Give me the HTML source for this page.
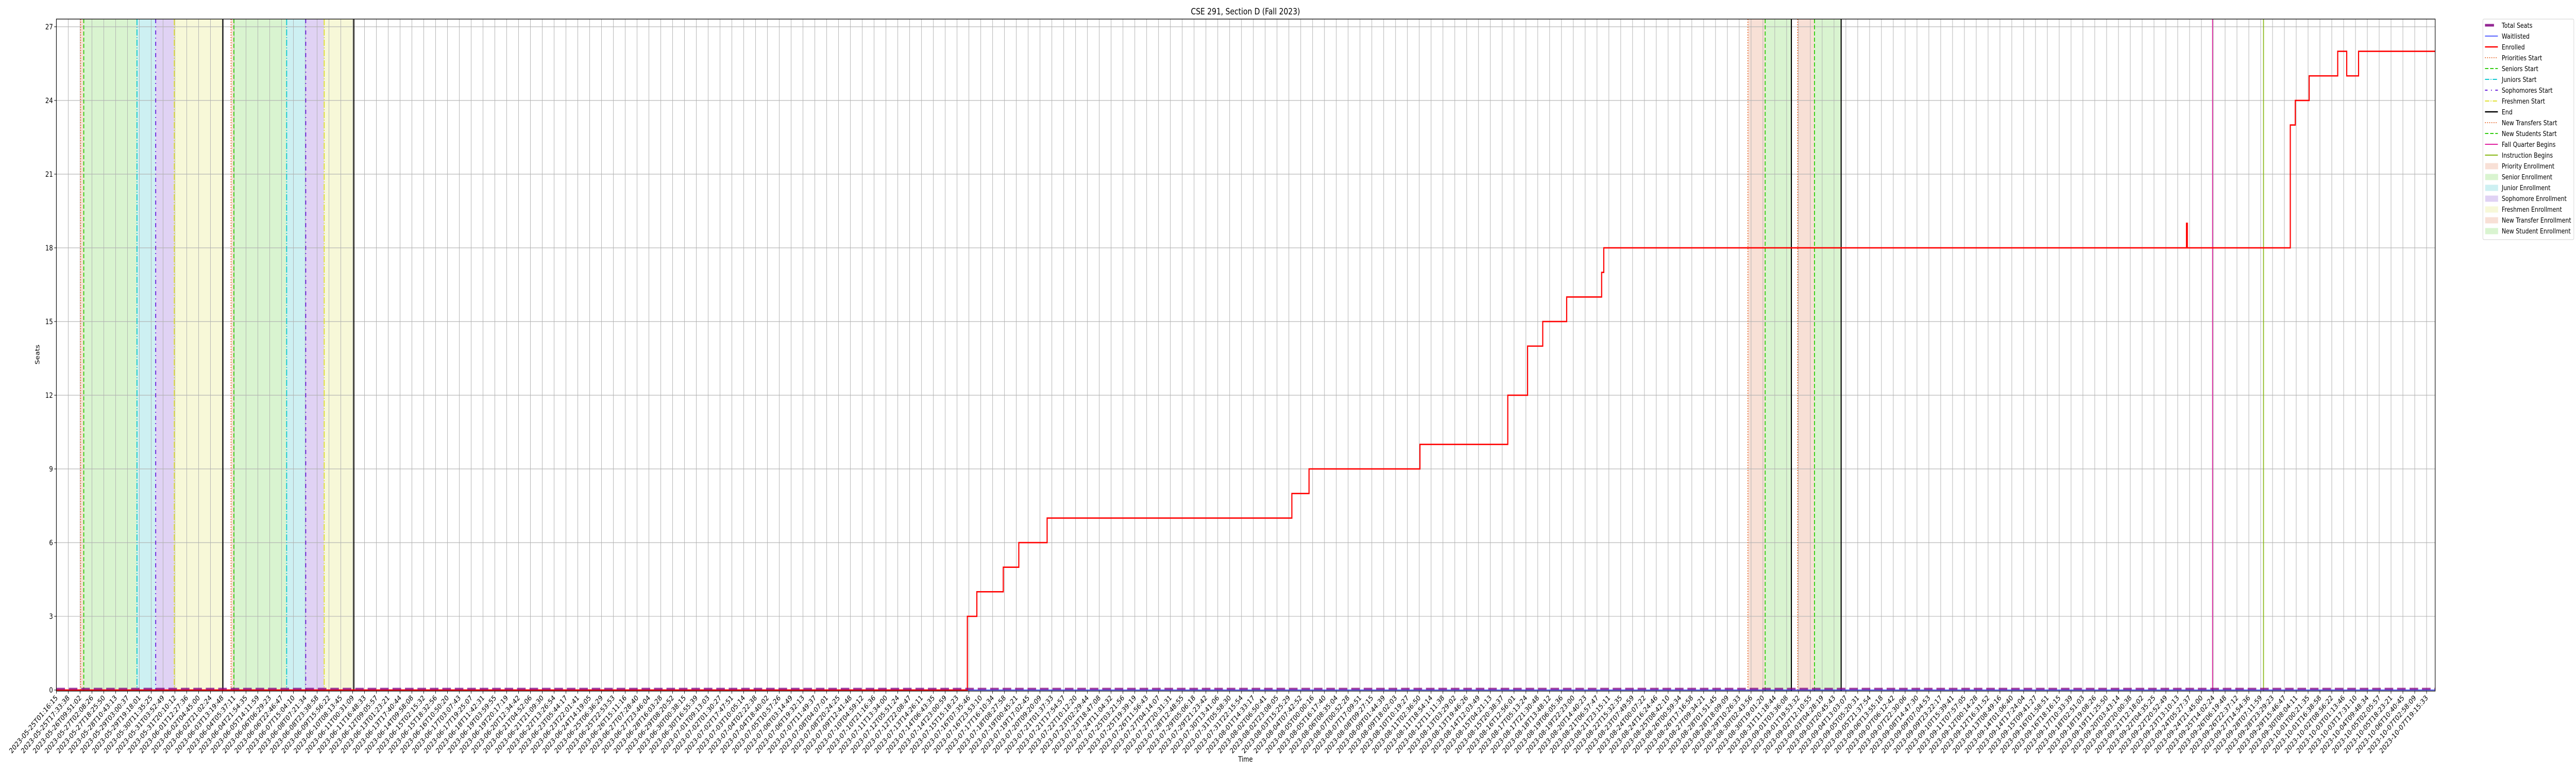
<!DOCTYPE html>
<html><head><meta charset="utf-8"><title>CSE 291, Section D (Fall 2023)</title>
<style>
html,body{margin:0;padding:0;background:#fff;width:100%;height:100%;overflow:hidden;}
svg{display:block;font-family:"DejaVu Sans","Liberation Sans",sans-serif;overflow:hidden;width:100vw;height:100vh;}
</style></head>
<body>
<svg id="chart" viewBox="0 0 6000 1500" preserveAspectRatio="none" xmlns="http://www.w3.org/2000/svg">
<rect x="0" y="0" width="6000" height="1500" fill="#fff"/>
<text x="2901" y="28" font-size="16.7" text-anchor="middle" fill="#000">CSE 291, Section D (Fall 2023)</text>
<g id="spans"></g>
<g id="grid"></g>
<g id="vlines"></g>
<g id="series"></g>
<g id="axes"></g>
<text x="2901" y="1478" font-size="13.9" text-anchor="middle">Time</text>
<text transform="translate(92,688) rotate(-90)" font-size="13.9" text-anchor="middle">Seats</text>
<g id="legend"></g>
</svg>
<script>
// ---- data ----
const tickStart = "2023-05-25T01:16:15";
const tickEnd = "2023-10-07T19:15:33";
const tickCount = 201;
const yTicks = [0, 3, 6, 9, 12, 15, 18, 21, 24, 27];
// x in tick-index units
const enrolledX = [0, 76.87, 77.67, 79.90, 81.21, 83.60, 104.25, 105.70, 115.06, 122.47, 124.14, 125.42, 127.44, 130.39, 130.57, 179.74, 179.81, 188.50, 188.92, 190.09, 192.50, 193.26, 194.26, 200.72];
const enrolledY = [0, 3, 4, 5, 6, 7, 8, 9, 10, 12, 14, 15, 16, 17, 18, 19, 18, 23, 24, 25, 26, 25, 26, 26];
const totalSeatsX = [0, 200.72];
const totalSeatsY = [0, 0];
const waitlistX = [0, 200.72];
const waitlistY = [0, 0];
const spanKinds = ["priority","senior","junior","sophomore","freshman","priority","senior","junior","sophomore","freshman","priority","senior","priority","senior"];
const spanStart = [2.04, 2.31, 6.80, 8.38, 9.95, 14.74, 14.98, 19.43, 21.04, 22.60, 142.73, 144.19, 146.93, 148.35];
const spanEnd   = [2.31, 6.80, 8.38, 9.95, 14.05, 14.98, 19.43, 21.04, 22.60, 25.10, 144.19, 146.40, 148.35, 150.60];
const lineKinds = ["priorities","seniors","juniors","sophomores","freshmen","end","priorities","seniors","juniors","sophomores","freshmen","end","transfers","newstudents","end","transfers","newstudents","end","fall","instruction"];
const lineX = [2.04, 2.31, 6.80, 8.38, 9.95, 14.05, 14.74, 14.98, 19.43, 21.04, 22.60, 25.10, 142.73, 144.19, 146.40, 146.93, 148.35, 150.60, 181.94, 186.24];

// ---- layout ----
const L = 131.3, R = 5672, T = 37, B = 1341;
const tickStep = (5652 - 131.3) / 200;
const xScale = v => L + v * tickStep;
const y0 = 1339, yUnit = 47.67;
const yScale = v => y0 - v * yUnit;
const NS = "http://www.w3.org/2000/svg";
function mk(tag, attrs, parent) {
  const e = document.createElementNS(NS, tag);
  for (const k in attrs) e.setAttribute(k, attrs[k]);
  parent.appendChild(e);
  return e;
}
const spanFill = {priority:"#f8e0d6", senior:"#d9f4d0", junior:"#cdf0f2", sophomore:"#e0d2f4", freshman:"#f7f8d8"};
const lineStyle = {
  priorities:{c:"#e8743b",w:2.2,d:"2,3"},
  transfers:{c:"#e8743b",w:2.2,d:"2,3"},
  seniors:{c:"#33cc11",w:2.2,d:"8,4"},
  newstudents:{c:"#33cc11",w:2.2,d:"8,4"},
  juniors:{c:"#11c8d0",w:2.2,d:"12,3,2,3"},
  sophomores:{c:"#6a22dd",w:2.2,d:"8,6,2,6"},
  freshmen:{c:"#e0e030",w:2.2,d:"12,3,2,3"},
  end:{c:"#000",w:2.5,d:""},
  fall:{c:"#e020a0",w:2,d:""},
  instruction:{c:"#88b814",w:2,d:""}
};

// spans
const gS = document.getElementById("spans");
for (let i = 0; i < spanStart.length; i++) {
  const r = mk("rect", {x: xScale(spanStart[i]), y: T, width: xScale(spanEnd[i]) - xScale(spanStart[i]), height: B - T, fill: spanFill[spanKinds[i]]}, gS);
  
  
}
// grid
const gG = document.getElementById("grid");
for (let i = 0; i < tickCount; i++) {
  const x = xScale(i);
  const l = mk("line", {x1: x, x2: x, y1: T, y2: B, stroke: "#b0b0b0", "stroke-width": 1.1}, gG);
  
  
}
yTicks.forEach(v => {
  const l = mk("line", {x1: L, x2: R, y1: yScale(v), y2: yScale(v), stroke: "#b0b0b0", "stroke-width": 1.1}, gG);
  
  
});
// event lines
const gV = document.getElementById("vlines");
for (let i = 0; i < lineX.length; i++) {
  const s = lineStyle[lineKinds[i]];
  const l = mk("line", {x1: xScale(lineX[i]), x2: xScale(lineX[i]), y1: T, y2: B, stroke: s.c, "stroke-width": s.w}, gV);
  if (s.d) l.setAttribute("stroke-dasharray", s.d);
  
  
}
// series
const gSer = document.getElementById("series");
function stepPath(xs, ys) {
  let d = "M" + xScale(xs[0]) + "," + yScale(ys[0]);
  for (let i = 1; i < xs.length; i++) {
    d += " H" + xScale(xs[i]) + " V" + yScale(ys[i]);
  }
  return d;
}
const wl = mk("path", {d: stepPath(waitlistX, waitlistY), fill: "none", stroke: "#2030ff", "stroke-width": 1.6}, gSer);


const en = mk("path", {d: stepPath(enrolledX, enrolledY), fill: "none", stroke: "#ff0000", "stroke-width": 2.6}, gSer);


const ts = mk("path", {d: stepPath(totalSeatsX, totalSeatsY.map(v => v + 0.05)), fill: "none", stroke: "#800080", "stroke-opacity": 0.75, "stroke-width": 4, "stroke-dasharray": "20,9"}, gSer);



// axes
const gA = document.getElementById("axes");
const frame = mk("rect", {x: L, y: T, width: R - L, height: B - T, fill: "none", stroke: "#000", "stroke-width": 1.3}, gA);


const t0 = Date.parse(tickStart + "Z"), t1 = Date.parse(tickEnd + "Z");
function fmt(ms) { return new Date(ms).toISOString().slice(0, 19); }
for (let i = 0; i < tickCount; i++) {
  const x = xScale(i);
  const tk = mk("line", {x1: x, x2: x, y1: B, y2: B + 5, stroke: "#000", "stroke-width": 1}, gA);
  
  
  const lab = (i === 0) ? tickStart : (i === tickCount - 1) ? tickEnd : fmt(t0 + (t1 - t0) * i / (tickCount - 1));
  const tx = mk("text", {x: x + 4, y: B + 14, "font-size": 14, "text-anchor": "end", transform: "rotate(-45 " + (x + 4) + " " + (B + 14) + ")"}, gA);
  tx.textContent = lab;
  
  
}
yTicks.forEach(v => {
  const y = yScale(v);
  const tk = mk("line", {x1: L - 5, x2: L, y1: y, y2: y, stroke: "#000", "stroke-width": 1}, gA);
  
  
  const tx = mk("text", {x: L - 8, y: y + 5, "font-size": 14, "text-anchor": "end"}, gA);
  tx.textContent = String(v);
  
  
});

// legend
const legendLabels = ["Total Seats","Waitlisted","Enrolled","Priorities Start","Seniors Start","Juniors Start","Sophomores Start","Freshmen Start","End","New Transfers Start","New Students Start","Fall Quarter Begins","Instruction Begins","Priority Enrollment","Senior Enrollment","Junior Enrollment","Sophomore Enrollment","Freshmen Enrollment","New Transfer Enrollment","New Student Enrollment"];
const legendHandles = [
  {t:"line",c:"#800080",w:5,d:"",o:0.85,short:true},{t:"line",c:"#2030ff",w:1.5,d:""},{t:"line",c:"#ff0000",w:2.6,d:""},
  {t:"line",c:"#e8743b",w:2,d:"2,3"},{t:"line",c:"#33cc11",w:2,d:"8,4"},{t:"line",c:"#11c8d0",w:2,d:"10,3,2,3"},
  {t:"line",c:"#6a22dd",w:2,d:"6,8,2,8"},{t:"line",c:"#e0e030",w:2,d:"10,3,2,3"},{t:"line",c:"#000",w:2.5,d:""},
  {t:"line",c:"#e8743b",w:2,d:"2,3"},{t:"line",c:"#33cc11",w:2,d:"8,4"},{t:"line",c:"#e020a0",w:2,d:""},{t:"line",c:"#88b814",w:2,d:""},
  {t:"rect",c:"#f8e0d6"},{t:"rect",c:"#d9f4d0"},{t:"rect",c:"#cdf0f2"},{t:"rect",c:"#e0d2f4"},{t:"rect",c:"#f7f8d8"},{t:"rect",c:"#f8e0d6"},{t:"rect",c:"#d9f4d0"}
];
const gL = document.getElementById("legend");
const lx = 5783, ly = 37, rowH = 21;
const lbox = mk("rect", {x: lx, y: ly, width: 212, height: legendLabels.length * rowH + 8, fill: "#fff", "fill-opacity": 0.8, stroke: "#d0d0d0", "stroke-width": 1, rx: 3}, gL);


legendLabels.forEach((lab, i) => {
  const cy = ly + 12 + i * rowH;
  const g = mk("g", {}, gL);
  
  
  const h = legendHandles[i];
  if (h.t === "line") {
    const ln = mk("line", {x1: lx + 5, x2: h.short ? lx + 26 : lx + 35, y1: cy, y2: cy, stroke: h.c, "stroke-width": h.w}, g);
    if (h.d) ln.setAttribute("stroke-dasharray", h.d);
    if (h.o) ln.setAttribute("stroke-opacity", h.o);
  } else {
    mk("rect", {x: lx + 6, y: cy - 5, width: 29, height: 11, fill: h.c, stroke: h.c}, g);
  }
  const tx = mk("text", {x: lx + 44, y: cy + 5, "font-size": 13.2, fill: "#000"}, g);
  tx.textContent = lab;
});
</script>
</body></html>
